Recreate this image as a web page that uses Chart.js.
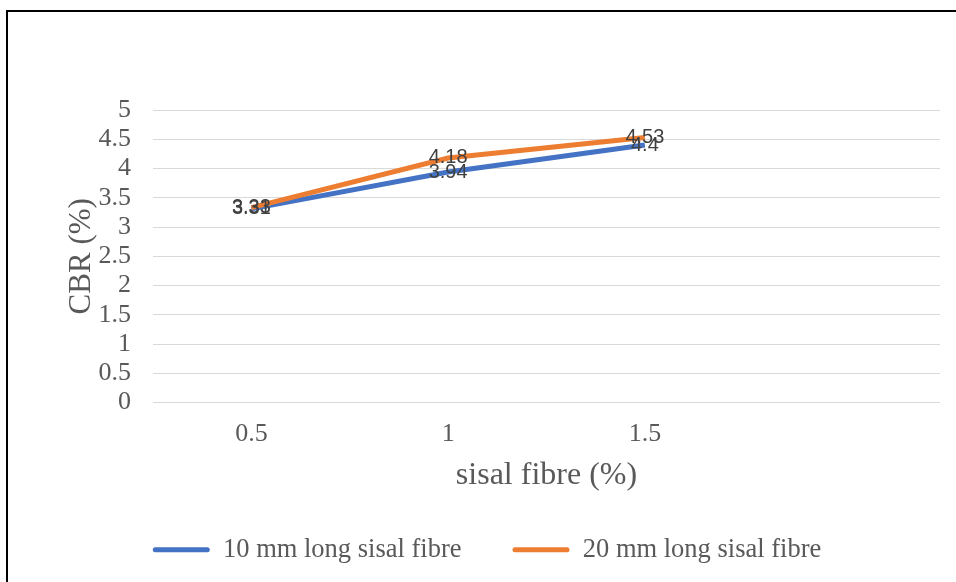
<!DOCTYPE html>
<html>
<head>
<meta charset="utf-8">
<script src="https://cdn.jsdelivr.net/npm/chart.js@4"></script>
<style>
  html, body { margin: 0; padding: 0; background: #fff; }
  #wrap { position: relative; width: 956px; height: 582px; overflow: hidden; }
  #frame { position: absolute; left: 6px; top: 10px; width: 1000px; height: 700px; border: 2px solid #000; }
  #myChart { position: absolute; left: 0; top: 0; }
</style>
</head>
<body>
<div id="wrap">
  <div id="frame"></div>
  <canvas id="myChart" width="956" height="582"></canvas>
</div>
<script>
// fibre content categories (last slot is empty in the original)
const fibreContent = ["0.5", "1", "1.5", ""];
const cbr10mm = [3.31, 3.94, 4.4, null];
const cbr20mm = [3.33, 4.18, 4.53, null];
const seriesNames = ["10 mm long sisal fibre", "20 mm long sisal fibre"];

const blue = "#4472C4";
const orange = "#ED7D31";

// draws value labels centred on each point
const valueLabels = {
    id: "valueLabels",
    afterDatasetsDraw(chart) {
        const ctx = chart.ctx;
        ctx.save();
        ctx.font = "20px 'Liberation Sans', Arial, sans-serif";
        ctx.fillStyle = "#404040";
        ctx.textAlign = "center";
        ctx.textBaseline = "middle";
        chart.data.datasets.forEach((ds, di) => {
            const meta = chart.getDatasetMeta(di);
            meta.data.forEach((pt, i) => {
                const v = ds.data[i];
                if (v == null) return;
                ctx.fillText(String(v), pt.x, pt.y);
            });
        });
        ctx.restore();
    }
};

const serif = "'Liberation Serif', 'Times New Roman', serif";

const chart = new Chart(document.getElementById("myChart"), {
    type: "line",
    data: {
        labels: fibreContent,
        datasets: [
            {
                label: seriesNames[0],
                data: cbr10mm,
                borderColor: blue,
                backgroundColor: blue,
                borderWidth: 5,
                pointRadius: 0,
                order: 1
            },
            {
                label: seriesNames[1],
                data: cbr20mm,
                borderColor: orange,
                backgroundColor: orange,
                borderWidth: 5,
                pointRadius: 0,
                order: 0
            }
        ]
    },
    options: {
        responsive: false,
        animation: false,
        layout: { padding: { top: 110, right: 16, left: 34, bottom: 9 } },
        plugins: {
            tooltip: { enabled: false },
            legend: {
                position: "bottom",
                labels: {
                    color: "#595959",
                    font: { family: serif, size: 26.5 },
                    boxWidth: 57,
                    boxHeight: 5,
                    useBorderRadius: true,
                    borderRadius: 2.5,
                    padding: 51,
                    sort: (a, b) => a.datasetIndex - b.datasetIndex,
                    generateLabels(c) {
                        const items = Chart.defaults.plugins.legend.labels.generateLabels(c);
                        items.forEach(it => { it.lineWidth = 0; });
                        return items;
                    }
                }
            }
        },
        scales: {
            x: {
                offset: true,
                grid: { display: false, drawTicks: false },
                border: { display: false },
                ticks: { color: "#595959", font: { family: serif, size: 26, lineHeight: 1 }, padding: 19 },
                title: {
                    display: true,
                    text: "sisal fibre (%)",
                    color: "#595959",
                    font: { family: serif, size: 32, lineHeight: 1 },
                    padding: { top: -7, bottom: -6 }
                }
            },
            y: {
                min: 0,
                max: 5,
                ticks: {
                    stepSize: 0.5,
                    autoSkip: false,
                    color: "#595959",
                    font: { family: serif, size: 26, lineHeight: 1 },
                    padding: 22,
                    callback: v => String(v)
                },
                grid: { color: "#D9D9D9", lineWidth: 1, drawTicks: false },
                border: { display: false },
                title: {
                    display: true,
                    text: "CBR (%)",
                    color: "#595959",
                    font: { family: serif, size: 31 },
                    padding: { top: 29, bottom: 0 }
                },
                afterFit(scale) { scale.width = 119; }
            }
        }
    },
    plugins: [valueLabels]
});
</script>
</body>
</html>
